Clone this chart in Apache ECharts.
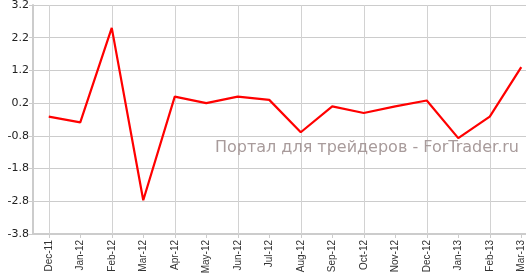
<!DOCTYPE html>
<html>
<head>
<meta charset="utf-8">
<script src="https://cdn.jsdelivr.net/npm/echarts@6/dist/echarts.min.js"></script>
<style>
html,body{margin:0;padding:0;background:#fff;}
#chart{width:526px;height:275px;}
</style>
</head>
<body>
<div id="chart"></div>
<script>
const categories = ["Dec-11","Jan-12","Feb-12","Mar-12","Apr-12","May-12","Jun-12","Jul-12","Aug-12","Sep-12","Oct-12","Nov-12","Dec-12","Jan-13","Feb-13","Mar-13"];
const values = [-0.21, -0.39, 2.5, -2.77, 0.4, 0.2, 0.4, 0.3, -0.69, 0.1, -0.1, 0.1, 0.28, -0.87, -0.21, 1.3];
const yMin = -3.8, yMax = 3.2, yStep = 1;
const watermark = "Портал для трейдеров - ForTrader.ru";

const chart = echarts.init(document.getElementById('chart'), null, {renderer:'canvas'});
chart.setOption({
  animation: false,
  backgroundColor: '#ffffff',
  grid: {left: 33, width: 504, top: 5, height: 229, containLabel: false, outerBoundsMode: 'none'},
  xAxis: [{
    type: 'category',
    position: 'bottom',
    data: categories,
    boundaryGap: true,
    axisLine: {show: true, onZero: false, lineStyle: {color: '#cccccc', width: 2}},
    axisTick: {show: true, alignWithLabel: true, inside: false, length: 4, lineStyle: {color: '#cccccc'}},
    axisLabel: {rotate: 90, interval: 0, margin: 6, color: '#333333', fontSize: 10, fontFamily: 'Liberation Sans, Arial, sans-serif'},
    splitLine: {show: false}
  }, {
    type: 'category',
    position: 'bottom',
    data: categories,
    boundaryGap: true,
    axisLine: {show: false, onZero: false},
    axisTick: {show: true, alignWithLabel: true, inside: true, length: 229, lineStyle: {color: '#d2d2d2', width: 1}},
    axisLabel: {show: false},
    splitLine: {show: false}
  }],
  yAxis: {
    type: 'value',
    min: yMin,
    max: yMax,
    interval: yStep,
    axisLine: {show: true, onZero: false, lineStyle: {color: '#cccccc', width: 2}},
    axisTick: {show: true, inside: false, length: 4, lineStyle: {color: '#cccccc'}},
    axisLabel: {color: '#222222', fontSize: 11, fontFamily: 'DejaVu Sans, Verdana, sans-serif', margin: 4,
      formatter: v => (Math.round(v*10)/10).toFixed(1)},
    splitLine: {show: true, lineStyle: {color: '#cccccc', width: 1}}
  },
  graphic: [{
    type: 'text',
    right: 7,
    top: 140,
    z: 1,
    style: {text: watermark, fill: '#a89b9b', font: '16px "DejaVu Sans", Verdana, sans-serif'}
  }],
  series: [{
    type: 'line',
    xAxisIndex: 0,
    data: values,
    symbol: 'none',
    z: 5,
    lineStyle: {color: '#ff0000', width: 2.2}
  }]
});
</script>
</body>
</html>
